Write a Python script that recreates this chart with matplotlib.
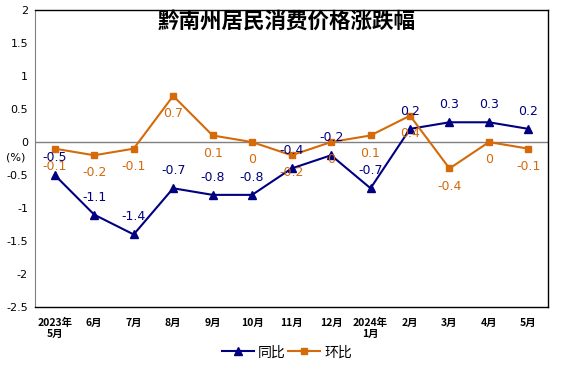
import matplotlib
matplotlib.use('Agg')
import matplotlib.pyplot as plt

plt.rcParams['font.family'] = ['Noto Sans CJK SC', 'DejaVu Sans']

months = ['2023年\n5月', '6月', '7月', '8月', '9月', '10月', '11月', '12月',
          '2024年\n1月', '2月', '3月', '4月', '5月']
yoy = [-0.5, -1.1, -1.4, -0.7, -0.8, -0.8, -0.4, -0.2, -0.7, 0.2, 0.3, 0.3, 0.2]
mom = [-0.1, -0.2, -0.1, 0.7, 0.1, 0, -0.2, 0, 0.1, 0.4, -0.4, 0, -0.1]
yticks = [2, 1.5, 1, 0.5, 0, -0.5, -1, -1.5, -2, -2.5]

blue = '#000080'
orange = '#D46A0A'

fig = plt.figure(figsize=(5.74, 3.74), dpi=100)
ax = fig.add_axes([0.061, 0.179, 0.894, 0.794])

x = list(range(len(months)))
ax.plot(x, yoy, color=blue, marker='^', markersize=6, linewidth=1.5, label='同比')
ax.plot(x, mom, color=orange, marker='s', markersize=4.5, linewidth=1.5, label='环比')

for i, v in enumerate(yoy):
    ax.annotate('{:g}'.format(v), (i, v), xytext=(0, 8), textcoords='offset points',
                ha='center', va='bottom', color=blue, fontsize=9, family='DejaVu Sans')
for i, v in enumerate(mom):
    ax.annotate('{:g}'.format(v), (i, v), xytext=(0, -8), textcoords='offset points',
                ha='center', va='top', color=orange, fontsize=9, family='DejaVu Sans')

ax.axhline(0, color='#808080', linewidth=1, zorder=0)
ax.set_xlim(-0.5, len(months) - 0.5)
ax.set_ylim(-2.5, 2)
ax.set_yticks(yticks)
ax.set_yticklabels(['{:g}'.format(t) for t in yticks], family='DejaVu Sans', fontsize=8)
ax.set_xticks(x)
ax.set_xticklabels(months, fontsize=7.5, fontweight='bold', linespacing=1.1)
ax.tick_params(axis='both', length=0, pad=5)
ax.tick_params(axis='x', pad=8)

for side in ['top', 'right', 'bottom']:
    ax.spines[side].set_color('black')
    ax.spines[side].set_linewidth(1)
ax.spines['left'].set_color('#808080')

fig.text(0.027, 0.578, '(%)', ha='center', va='center', fontsize=8, family='DejaVu Sans')
fig.text(0.5, 0.94, '黔南州居民消费价格涨跌幅', ha='center', va='center',
         fontsize=15.5, fontweight='bold')

fig.legend(loc='center', bbox_to_anchor=(0.5, 0.058), ncol=2, frameon=False,
           fontsize=10, handlelength=2.3, handletextpad=0.3, columnspacing=0.2)

fig.savefig('out.png', dpi=100)
